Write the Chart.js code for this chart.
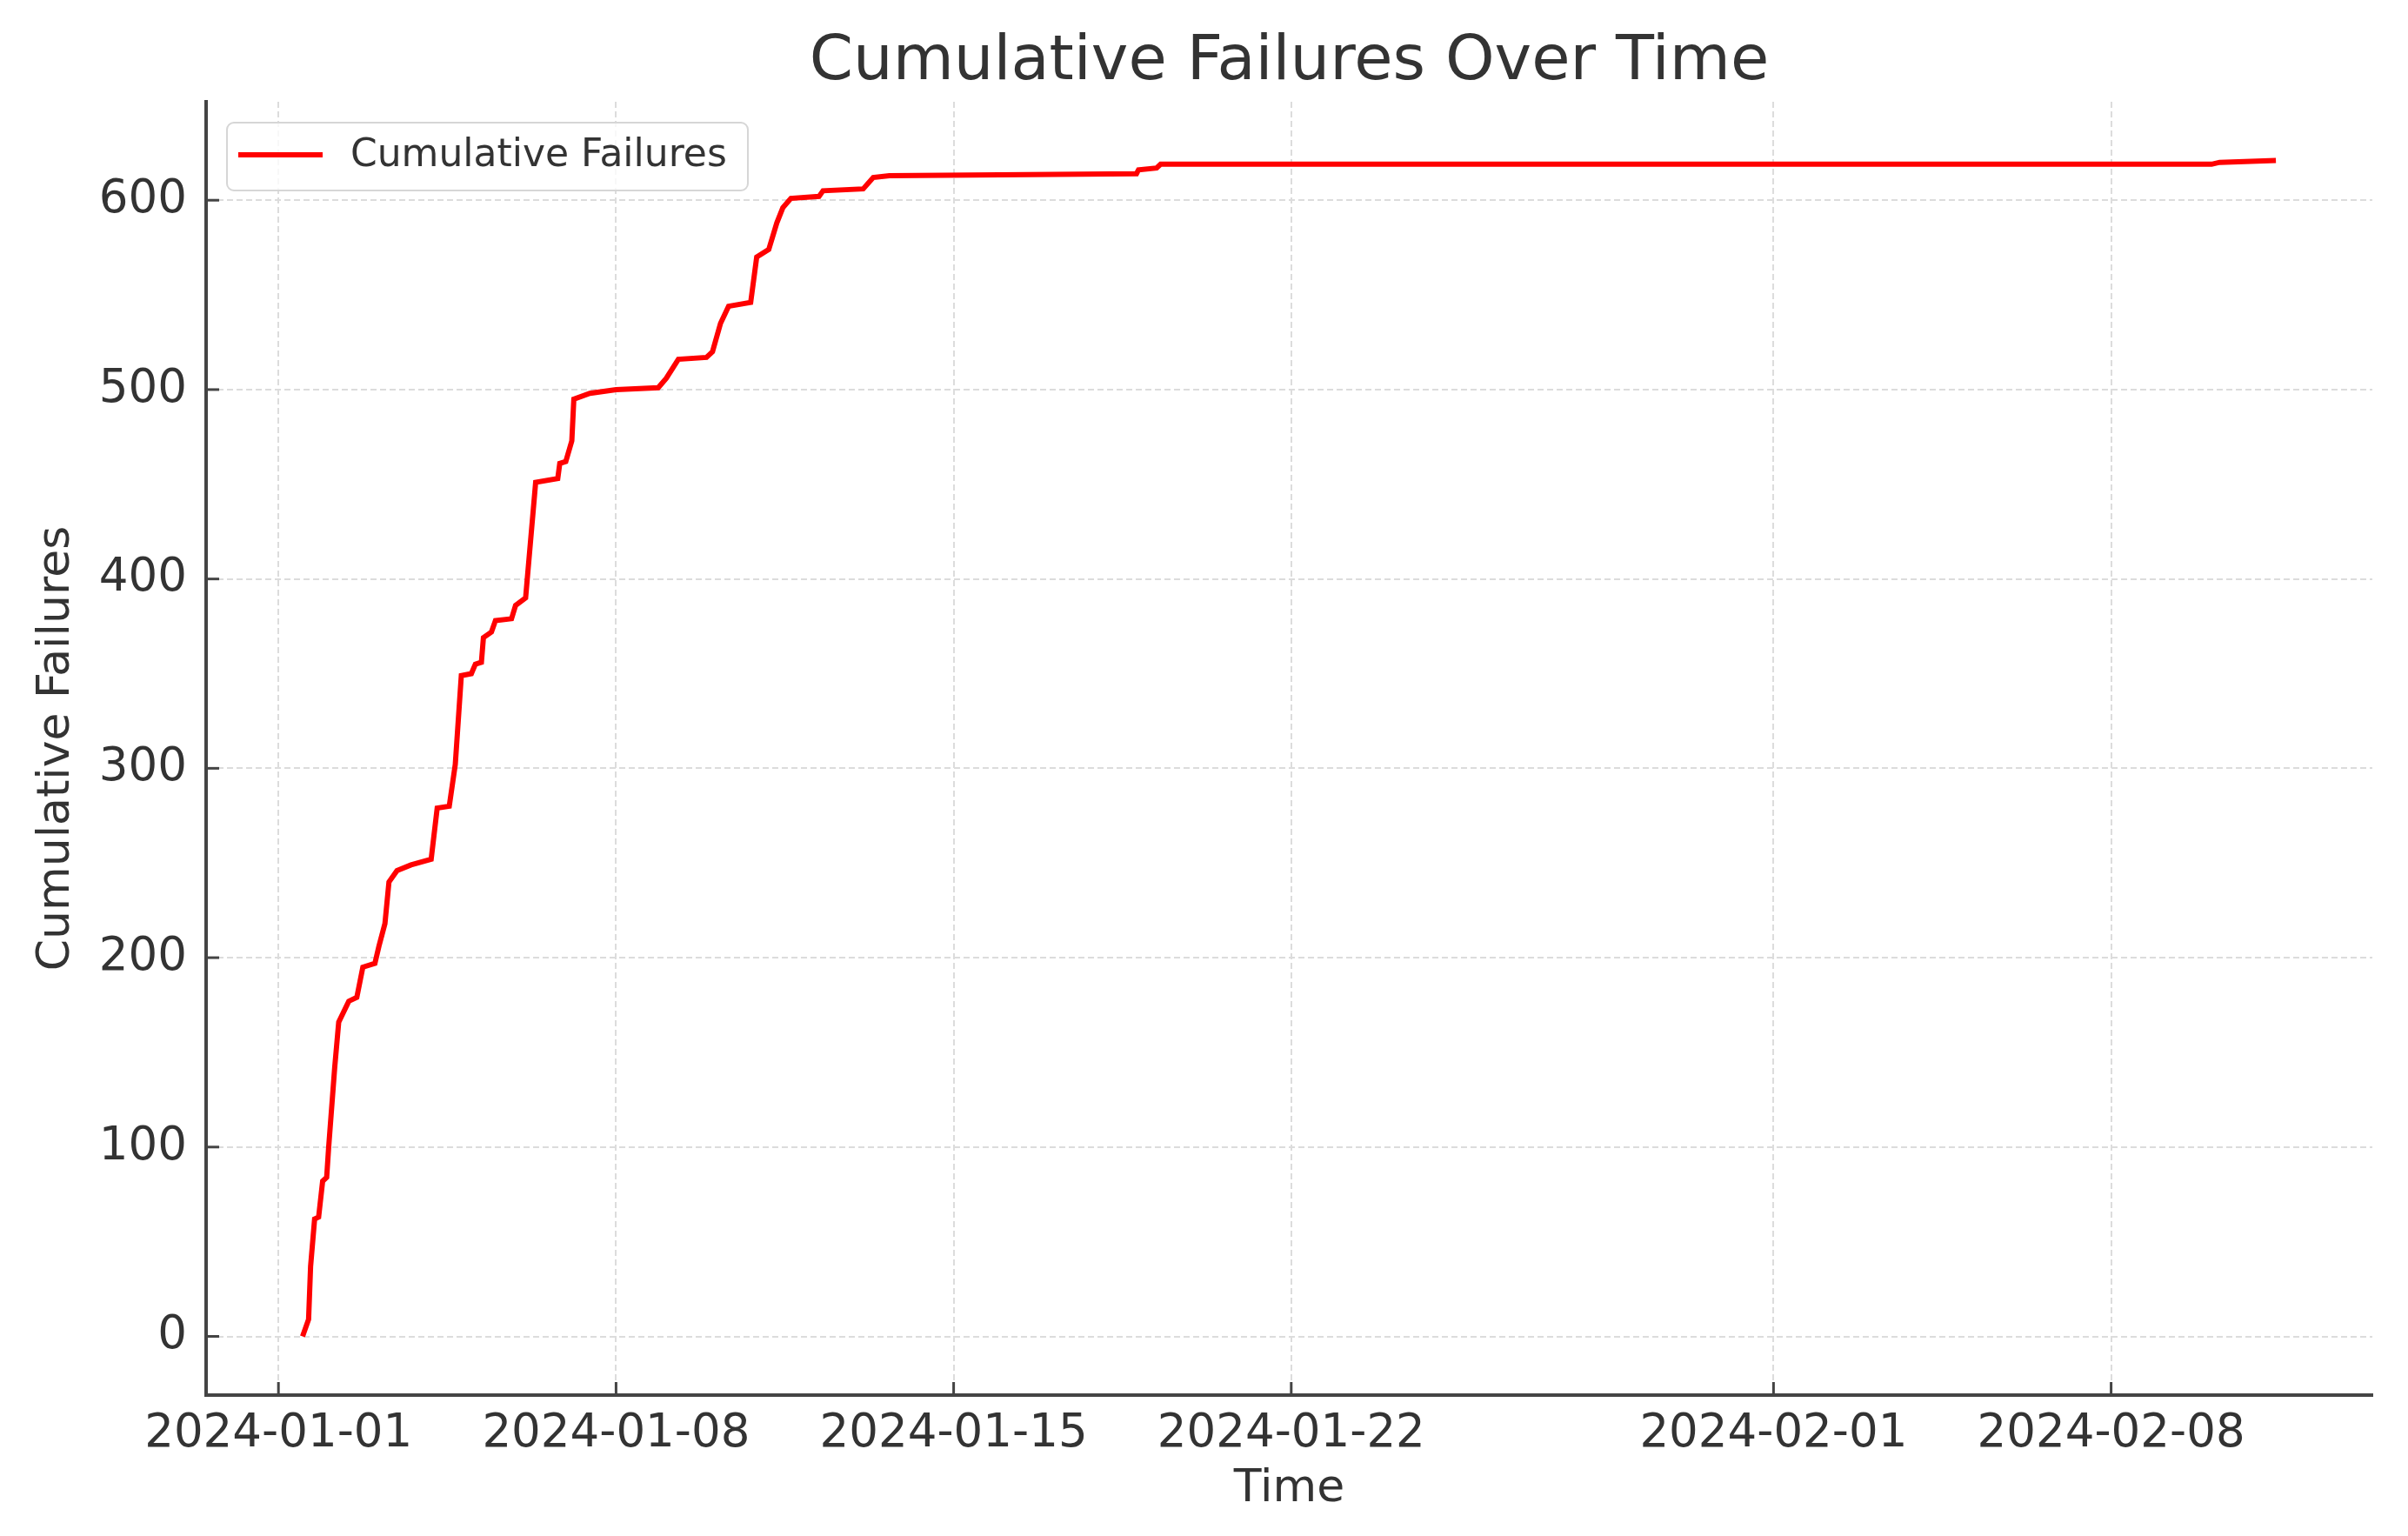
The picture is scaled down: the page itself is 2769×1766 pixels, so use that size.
<!DOCTYPE html>
<html>
<head>
<meta charset="utf-8">
<title>Cumulative Failures Over Time</title>
<script src="https://cdn.jsdelivr.net/npm/chart.js@4.4.1/dist/chart.umd.min.js"></script>
<style>
  body { margin: 0; background: #fff; }
  canvas { display: block; }
</style>
</head>
<body>
<canvas id="failuresChart" width="2769" height="1766"></canvas>
<script>
// Points (UTC times)
const failureTimes = [
    '2024-01-01T12:00', '2024-01-01T15:00', '2024-01-01T16:00', '2024-01-01T18:00',
    '2024-01-01T20:00', '2024-01-01T22:00', '2024-01-02T00:00', '2024-01-02T01:00',
    '2024-01-02T03:00', '2024-01-02T04:00', '2024-01-02T06:00', '2024-01-02T11:00',
    '2024-01-02T15:00', '2024-01-02T18:00', '2024-01-03T00:00', '2024-01-03T02:00',
    '2024-01-03T05:00', '2024-01-03T07:00', '2024-01-03T11:00', '2024-01-03T18:00',
    '2024-01-04T04:00', '2024-01-04T07:00', '2024-01-04T13:00', '2024-01-04T16:00',
    '2024-01-04T19:00', '2024-01-05T00:00', '2024-01-05T02:00', '2024-01-05T05:00',
    '2024-01-05T06:00', '2024-01-05T10:00', '2024-01-05T12:00', '2024-01-05T20:00',
    '2024-01-05T22:00', '2024-01-06T03:00', '2024-01-06T08:00', '2024-01-06T19:00',
    '2024-01-06T20:00', '2024-01-06T23:00', '2024-01-07T02:00', '2024-01-07T03:00',
    '2024-01-07T11:00', '2024-01-08T00:00', '2024-01-08T21:00', '2024-01-09T01:00',
    '2024-01-09T07:00', '2024-01-09T21:00', '2024-01-10T00:00', '2024-01-10T04:00',
    '2024-01-10T08:00', '2024-01-10T19:00', '2024-01-10T22:00', '2024-01-11T04:00',
    '2024-01-11T08:00', '2024-01-11T11:00', '2024-01-11T15:00', '2024-01-12T05:00',
    '2024-01-12T07:00', '2024-01-13T03:00', '2024-01-13T08:00', '2024-01-13T16:00',
    '2024-01-18T19:00', '2024-01-18T20:00', '2024-01-19T05:00', '2024-01-19T07:00',
    '2024-02-10T02:00', '2024-02-10T06:00', '2024-02-11T10:00'
];
const cumulativeFailures = [
    0, 9, 37, 62,
    63, 82, 84, 100,
    128, 142, 166, 177,
    179, 195, 197, 206,
    218, 240, 246, 249,
    252, 279, 280, 302,
    349, 350, 355, 356,
    369, 372, 378, 379,
    386, 390, 451, 453,
    461, 462, 473, 495,
    498, 500, 501, 506,
    516, 517, 520, 535,
    544, 546, 570, 574,
    588, 596, 601, 602,
    605, 606, 612, 613,
    614, 616, 617, 619,
    619, 620, 621
];
const xTickDates = ['2024-01-01', '2024-01-08', '2024-01-15', '2024-01-22', '2024-02-01', '2024-02-08'];
const yTickValues = [0, 100, 200, 300, 400, 500, 600];
const xLimits = ['2023-12-30T12:00', '2024-02-13T10:00'];
const yLimits = [-31, 652];

const chartTitle = 'Cumulative Failures Over Time';
const font = '"DejaVu Sans", sans-serif';
const toMs = s => Date.parse(s.length === 10 ? s + 'T00:00Z' : s + 'Z');

// title, legend box and inward tick marks like the original
const decorations = {
    id: 'decorations',
    afterDraw(chart) {
        const ctx = chart.ctx;
        const area = chart.chartArea;
        const xs = chart.scales.x;
        const ys = chart.scales.y;
        ctx.save();

        ctx.strokeStyle = '#444';
        ctx.lineWidth = 3;
        xs.ticks.forEach(t => {
            const px = xs.getPixelForValue(t.value);
            ctx.beginPath();
            ctx.moveTo(px, area.bottom);
            ctx.lineTo(px, area.bottom - 15);
            ctx.stroke();
        });
        ys.ticks.forEach(t => {
            const py = ys.getPixelForValue(t.value);
            ctx.beginPath();
            ctx.moveTo(area.left, py);
            ctx.lineTo(area.left + 15, py);
            ctx.stroke();
        });

        ctx.fillStyle = '#333';
        ctx.font = '72px ' + font;
        ctx.textAlign = 'center';
        ctx.textBaseline = 'middle';
        ctx.fillText(chartTitle, (area.left + area.right) / 2, 72);

        // legend
        const bx = 261, by = 141, bw = 599, bh = 78;
        ctx.fillStyle = 'rgba(255,255,255,0.8)';
        ctx.strokeStyle = '#d6d6d6';
        ctx.lineWidth = 2;
        ctx.beginPath();
        ctx.roundRect(bx, by, bw, bh, 8);
        ctx.fill();
        ctx.stroke();
        const ds = chart.data.datasets[0];
        ctx.strokeStyle = ds.borderColor;
        ctx.lineWidth = 6;
        ctx.beginPath();
        ctx.moveTo(bx + 13, by + 37);
        ctx.lineTo(bx + 110, by + 37);
        ctx.stroke();
        ctx.fillStyle = '#333';
        ctx.font = '44px ' + font;
        ctx.textAlign = 'left';
        ctx.fillText(ds.label, bx + 142, by + 39);

        ctx.restore();
    }
};

document.addEventListener('DOMContentLoaded', function () {
    const ctx = document.getElementById('failuresChart').getContext('2d');

    new Chart(ctx, {
        type: 'line',
        data: {
            datasets: [{
                label: 'Cumulative Failures',
                data: failureTimes.map((t, i) => ({ x: toMs(t), y: cumulativeFailures[i] })),
                borderColor: '#ff0000',
                borderWidth: 6,
                pointRadius: 0,
                tension: 0,
                fill: false,
            }]
        },
        options: {
            responsive: false,
            animation: false,
            devicePixelRatio: 1,
            layout: { padding: { left: 0, right: 41, top: 117, bottom: 0 } },
            plugins: {
                legend: { display: false },
                title: { display: false },
                tooltip: { enabled: false },
            },
            scales: {
                x: {
                    type: 'linear',
                    min: toMs(xLimits[0]),
                    max: toMs(xLimits[1]),
                    afterBuildTicks: axis => {
                        axis.ticks = xTickDates.map(d => ({ value: toMs(d) }));
                    },
                    afterFit: axis => { axis.height = 162; },
                    ticks: {
                        autoSkip: false,
                        maxRotation: 0,
                        padding: 13,
                        color: '#333',
                        font: { family: font, size: 53 },
                        callback: v => new Date(v).toISOString().slice(0, 10),
                    },
                    grid: { color: '#dcdcdc', lineWidth: 2, drawTicks: false },
                    border: { display: true, color: '#444', width: 4, dash: [7, 4] },
                    title: {
                        display: true,
                        text: 'Time',
                        color: '#333',
                        font: { family: font, size: 52 },
                        padding: { top: 0, bottom: 22 },
                    },
                },
                y: {
                    min: yLimits[0],
                    max: yLimits[1],
                    afterBuildTicks: axis => {
                        axis.ticks = yTickValues.map(v => ({ value: v }));
                    },
                    afterFit: axis => { axis.width = 237; },
                    ticks: {
                        padding: 22,
                        color: '#333',
                        font: { family: font, size: 53 },
                    },
                    grid: { color: '#dcdcdc', lineWidth: 2, drawTicks: false },
                    border: { display: true, color: '#444', width: 4, dash: [7, 4] },
                    title: {
                        display: true,
                        text: 'Cumulative Failures',
                        color: '#333',
                        font: { family: font, size: 52 },
                        padding: { top: 34, bottom: 0 },
                    },
                },
            },
        },
        plugins: [decorations],
    });
});
</script>
</body>
</html>
